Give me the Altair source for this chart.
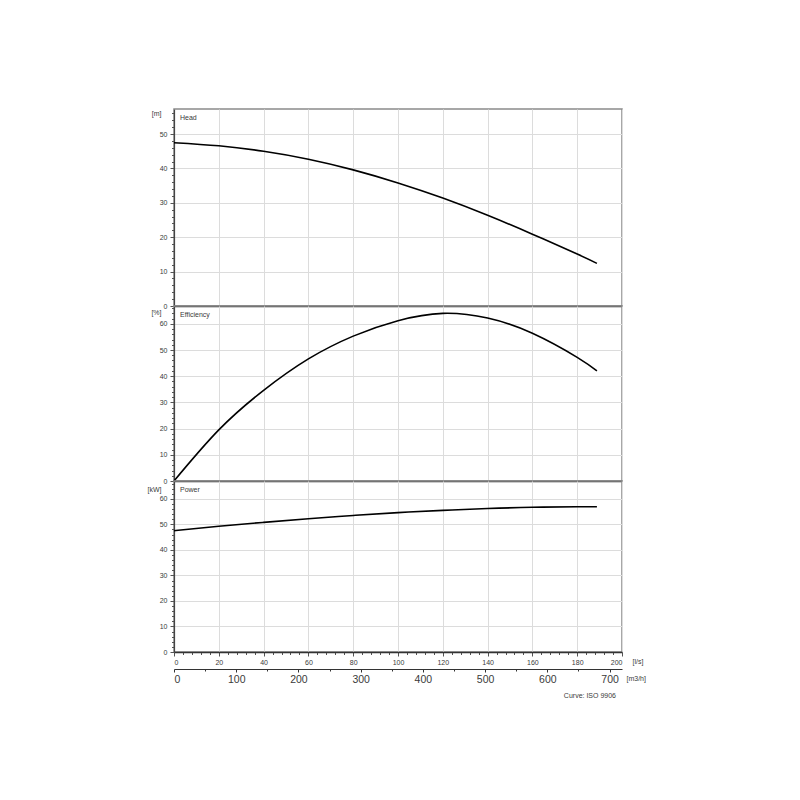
import altair as alt
import pandas as pd

# ---- data ----
flow = [0, 20, 40, 60, 80, 100, 120, 140, 160, 180, 188.8]
head = [47.5, 46.6, 45.0, 42.7, 39.6, 35.8, 31.4, 26.4, 20.9, 15.1, 12.4]
eff = [0, 19.5, 34.6, 46.6, 55.3, 61.2, 64.0, 62.2, 56.4, 47.2, 42.0]
power = [47.5, 49.3, 50.8, 52.2, 53.5, 54.6, 55.5, 56.2, 56.7, 56.9, 56.9]

panel_titles = ["Head", "Efficiency", "Power"]
units = ["[m]", "[%]", "[kW]"]
unit_y = [4, 6, 8]
y_max = [57.3, 66.8, 67.0]
panel_heights = [197, 175, 171]
m3h_ticks = [0, 100, 200, 300, 400, 500, 600, 700]
note = ["Curve: ISO 9906"]

df = pd.DataFrame({"flow": flow, "Head": head, "Efficiency": eff, "Power": power})

FONT = "Liberation Sans"
W = 448
GRID = "#dcdcdc"
TXT = "#3a3a3a"

x_vals = list(range(0, 201, 4))
x_grid_vals = list(range(0, 201, 20))


def y_axis(unit, ymax, ty):
    vals = list(range(0, int(ymax) + 1, 2))
    return alt.Axis(
        values=vals,
        labelExpr="datum.value % 10 === 0 ? datum.label : ''",
        tickSize=alt.condition("datum.value % 10 === 0", alt.value(4), alt.value(2.5)),
        gridOpacity=alt.condition("datum.value % 10 === 0", alt.value(1), alt.value(0)),
        gridColor=GRID,
        tickColor="#555",
        domainColor="#444",
        domainWidth=1.2,
        labelFontSize=7,
        labelColor=TXT,
        labelPadding=3,
        title=unit,
        titleAngle=0,
        titleAlign="right",
        titleBaseline="middle",
        titleX=-13,
        titleY=ty,
        titleFontSize=7,
        titleFontWeight="normal",
        titleColor=TXT,
    )


def panel(i, bottom=False):
    name = panel_titles[i]
    if bottom:
        xaxis = alt.Axis(
            values=x_vals,
            labelExpr="datum.value % 20 === 0 ? datum.label : ''",
            tickSize=alt.condition("datum.value % 20 === 0", alt.value(4), alt.value(2.5)),
            gridOpacity=alt.condition("datum.value % 20 === 0", alt.value(1), alt.value(0)),
            gridColor=GRID,
            tickColor="#555",
            domainColor="#333",
            domainWidth=1.5,
            labelFontSize=7,
            labelColor=TXT,
            labelPadding=2,
            title="[l/s]",
            titleAngle=0,
            titleAlign="left",
            titleBaseline="middle",
            titleX=458,
            titleY=9,
            titleFontSize=7,
            titleFontWeight="normal",
            titleColor=TXT,
        )
    else:
        xaxis = alt.Axis(
            values=x_grid_vals,
            labels=False,
            ticks=False,
            gridColor=GRID,
            domainColor="#333",
            domainWidth=1.5,
            title=None,
        )
    line = alt.Chart(df).mark_line(color="black", strokeWidth=1.6, interpolate="natural").encode(
        x=alt.X("flow:Q", scale=alt.Scale(domain=[0, 200], nice=False), axis=xaxis),
        y=alt.Y(f"{name}:Q", scale=alt.Scale(domain=[0, y_max[i]], nice=False),
                axis=y_axis(units[i], y_max[i], unit_y[i])),
    )
    label = alt.Chart(pd.DataFrame({"t": [name]})).mark_text(
        align="left", baseline="middle", fontSize=7, font=FONT, color=TXT
    ).encode(text="t:N", x=alt.value(6), y=alt.value(9))
    layers = [line, label]
    if bottom:
        m3h = alt.Chart(pd.DataFrame({"m3h": m3h_ticks})).mark_point(opacity=0).encode(
            x=alt.X(
                "m3h:Q",
                scale=alt.Scale(domain=[0, 720], nice=False),
                axis=alt.Axis(
                    orient="bottom",
                    offset=17,
                    values=list(range(0, 701, 50)),
                    labelExpr="datum.value % 100 === 0 ? datum.label : ''",
                    tickSize=alt.condition("datum.value % 100 === 0", alt.value(3), alt.value(2)),
                    grid=False,
                    domainColor="#333",
                    domainWidth=1.2,
                    tickColor="#333",
                    labelFontSize=10.5,
                    labelColor=TXT,
                    labelPadding=2,
                    title="[m3/h]",
                    titleAngle=0,
                    titleAlign="left",
                    titleBaseline="middle",
                    titleX=452,
                    titleY=9,
                    titleFontSize=7,
                    titleFontWeight="normal",
                    titleColor=TXT,
                ),
            ),
            y=alt.value(0),
        )
        txt = alt.Chart(pd.DataFrame({"t": note})).mark_text(
            align="right", baseline="middle", fontSize=7, font=FONT, color=TXT
        ).encode(text="t:N", x=alt.value(442), y=alt.value(215))
        layers += [m3h, txt]
    ch = alt.layer(*layers).properties(width=W, height=panel_heights[i])
    if bottom:
        ch = ch.resolve_scale(x="independent")
    return ch


chart = alt.vconcat(
    panel(0), panel(1), panel(2, bottom=True), spacing=0, bounds="flush"
).configure(
    font=FONT,
    padding={"left": 138, "top": 100, "right": 5, "bottom": 5},
).configure_view(
    stroke="#8a8a8a", strokeWidth=1.5
).configure_concat(spacing=0)

chart.save("out.html", embed_options={"renderer": "svg", "actions": False})
